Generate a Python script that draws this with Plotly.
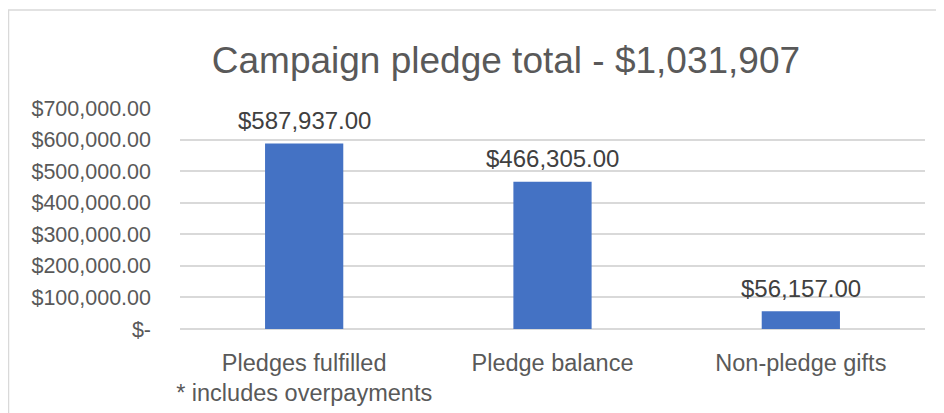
import plotly.graph_objects as go

categories = ["Pledges fulfilled<br>* includes overpayments", "Pledge balance", "Non-pledge gifts"]
amounts = [587937, 466305, 56157]
y_ticks = [0, 100000, 200000, 300000, 400000, 500000, 600000, 700000]
y_ticktext = ["$-", "$100,000.00", "$200,000.00", "$300,000.00", "$400,000.00",
              "$500,000.00", "$600,000.00", "$700,000.00"]

grey_text = "#595959"
grid = "#d9d9d9"
font_family = "Liberation Sans, Arial, sans-serif"

fig = go.Figure()
fig.add_trace(go.Bar(
    x=categories,
    y=amounts,
    marker=dict(color="#4472c4", line=dict(width=0)),
    cliponaxis=False,
))

# value labels above the bars
for cat, val in zip(categories, amounts):
    fig.add_annotation(x=cat, y=val, text=f"${val:,.2f}", showarrow=False,
                       yanchor="middle", yshift=23,
                       font=dict(size=24, color="#404040", family=font_family))

# chart border like an Excel chart frame
fig.add_shape(type="rect", xref="paper", yref="paper",
              x0=-0.2302, x1=1.04, y0=-0.45, y1=1.4434,
              line=dict(color=grid, width=1.5), fillcolor="rgba(0,0,0,0)")

# the page body adds an 8px offset, so the figure is sized 936x405
fig.update_layout(
    width=936, height=405,
    margin=dict(l=172, r=19, t=100, b=84),
    paper_bgcolor="white", plot_bgcolor="white",
    font=dict(family=font_family, color=grey_text),
    title=dict(text="Campaign pledge total - $1,031,907",
               font=dict(size=37, color=grey_text, family=font_family),
               xref="container", x=0.532, xanchor="center",
               yref="container", y=0.8716, yanchor="middle"),
    bargap=0.685,
    showlegend=False,
)
fig.update_yaxes(range=[0, 700000], tickvals=y_ticks, ticktext=y_ticktext,
                 showgrid=True, gridcolor=grid, gridwidth=1.5,
                 zeroline=True, zerolinecolor=grid, zerolinewidth=1.5,
                 tickfont=dict(size=21.5, color=grey_text), ticklabelstandoff=28,
                 automargin=False)
fig.update_xaxes(showline=False, tickfont=dict(size=23.5, color=grey_text),
                 ticklabelstandoff=17, automargin=False)

fig.write_html("out.html")
